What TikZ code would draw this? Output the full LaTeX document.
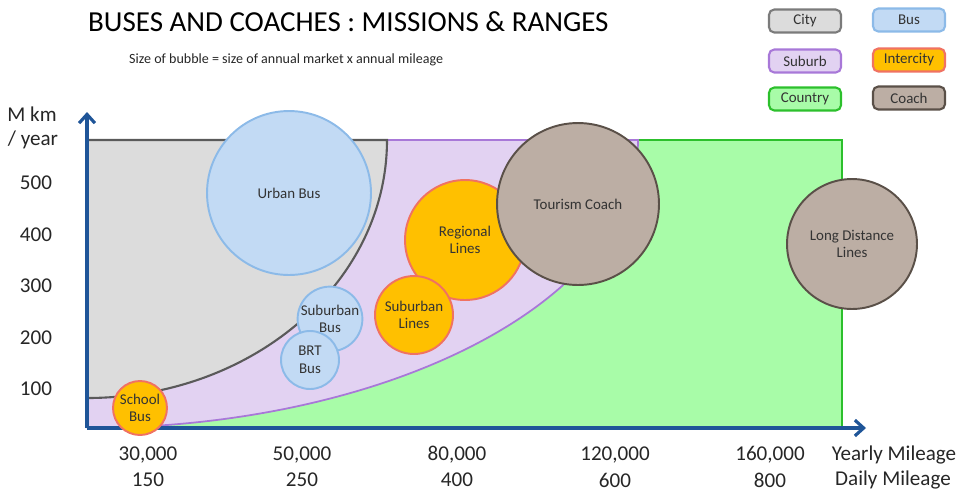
\documentclass[tikz,border=0pt]{standalone}
\usepackage{fontspec}
\setmainfont{Carlito}
\usetikzlibrary{arrows.meta}

\definecolor{axisblue}{HTML}{1F5598}
\definecolor{cityfill}{HTML}{DCDCDC}
\definecolor{cityline}{HTML}{5A5A5A}
\definecolor{suburbfill}{HTML}{E2D2F2}
\definecolor{suburbline}{HTML}{A878D8}
\definecolor{countryfill}{HTML}{A8FCA8}
\definecolor{countryline}{HTML}{2CC02C}
\definecolor{busfill}{HTML}{C2DAF4}
\definecolor{busline}{HTML}{8CBAE8}
\definecolor{interfill}{HTML}{FFC000}
\definecolor{interline}{HTML}{F07262}
\definecolor{coachfill}{HTML}{BCAEA4}
\definecolor{coachline}{HTML}{5A5048}

\tikzset{
  bubble/.style={circle, inner sep=0pt, align=center, line width=1.1pt,
    font=\fontsize{8.5}{10}\selectfont, text=black!80},
  busbub/.style={bubble, draw=busline, fill=busfill},
  interbub/.style={bubble, draw=interline, fill=interfill},
  coachbub/.style={bubble, draw=coachline, fill=coachfill},
  legendbox/.style={rounded corners=3pt, line width=1.2pt, minimum width=1.44cm,
    minimum height=0.46cm, inner sep=0pt, font=\fontsize{8.5}{10}\selectfont, text=black!80},
  axislabel/.style={font=\fontsize{12}{14}\selectfont, text=black!85},
}

\begin{document}
\begin{tikzpicture}[x=0.02cm, y=-0.02cm]
    \useasboundingbox (0,0) rectangle (974,495);
    % regions
    \draw[countryline, fill=countryfill, line width=1pt] (87,428) -- (87,140) -- (842,140) -- (842,428);
    \draw[suburbline, fill=suburbfill, line width=1pt] (87,428) -- (87,140) -- (638,140)
        arc[start angle=0, end angle=90, x radius=551, y radius=288];
    \draw[cityline, fill=cityfill, line width=1.2pt] (87,398) -- (87,140) -- (387,140)
        arc[start angle=0, end angle=90, x radius=300, y radius=258];

    % axes
    \coordinate (origin) at (87,428);
    \coordinate (ytip) at (87,112);
    \coordinate (xtip) at (866,428);
    \draw[axisblue, line width=1.8pt, -{Straight Barb[length=5pt, width=9pt]}] (origin) -- (ytip);
    \draw[axisblue, line width=1.8pt, -{Straight Barb[length=5pt, width=9pt]}] (origin) -- (xtip);

    % bubbles
    \node[busbub, minimum size=3.28cm] (urban) at (289,193) {Urban Bus};
    \node[busbub, minimum size=1.28cm] (suburbanbus) at (330,319) {Suburban\\Bus};
    \node[busbub, minimum size=1.16cm] (brt) at (310,360) {BRT\\Bus};
    \node[interbub, minimum size=1.08cm] (school) at (140,408) {School\\Bus};
    \node[interbub, minimum size=2.4cm] (regional) at (465,240) {Regional\\Lines};
    \node[interbub, minimum size=1.56cm] (suburbanlines) at (414,315) {Suburban\\Lines};
    \node[coachbub, minimum size=3.24cm] (tourism) at (578,204) {Tourism Coach};
    \node[coachbub, minimum size=2.6cm] (longdist) at (852,244) {Long Distance\\Lines};

    % titles
    \node[anchor=west, font=\fontsize{16.5}{18}\selectfont] (title) at (82,22)
        {BUSES AND COACHES : MISSIONS \& RANGES};
    \node[anchor=west, font=\fontsize{8}{10}\selectfont, text=black!85] (subtitle) at (123,60)
        {Size of bubble = size of annual market x annual mileage};

    % legend
    \node[legendbox, draw=cityline!80, fill=cityfill] (lcity) at (805,21) {City};
    \node[legendbox, draw=busline, fill=busfill] (lbus) at (909,20) {Bus};
    \node[legendbox, draw=suburbline, fill=suburbfill] (lsuburb) at (805,61) {Suburb};
    \node[legendbox, draw=interline, fill=interfill] (linter) at (909,60) {Intercity};
    \node[legendbox, draw=countryline, fill=countryfill] (lcountry) at (805,99) {Country};
    \node[legendbox, draw=coachline, fill=coachfill] (lcoach) at (909,98) {Coach};

    % y labels
    \node[axislabel] (ymk) at (32,114) {M km};
    \node[axislabel] (yyear) at (33,140) {/ year};
    \foreach \v/\yy in {500/183, 400/235, 300/286, 200/338, 100/389}
        \node[axislabel] (y\v) at (36,\yy) {\v};

    % x labels
    \foreach \yr/\dy/\xx in {{30,000}/150/148, {50,000}/250/302, {80,000}/400/457,
                            {120,000}/600/615, {160,000}/800/770}
        {\node[axislabel] (x\dy) at (\xx,455) {\yr};
         \node[axislabel] (d\dy) at (\xx,480) {\dy};}
    \node[axislabel] (yearly) at (894,455) {Yearly Mileage};
    \node[axislabel] (daily) at (893,480) {Daily Mileage};
\end{tikzpicture}
\end{document}
